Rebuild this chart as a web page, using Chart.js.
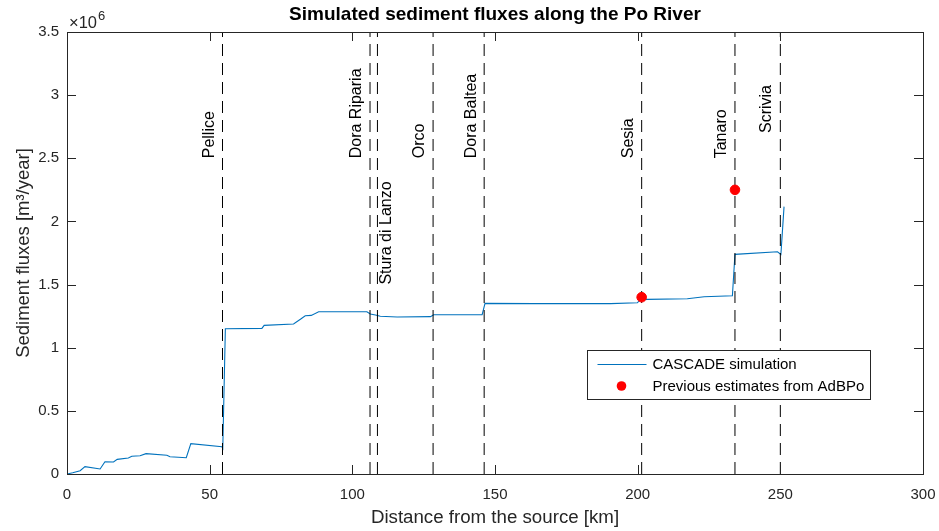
<!DOCTYPE html>
<html>
<head>
<meta charset="utf-8">
<script src="https://cdn.jsdelivr.net/npm/chart.js@4.4.1/dist/chart.umd.min.js"></script>
<style>
  html, body { margin: 0; padding: 0; background: #ffffff; }
  #wrap { width: 939px; height: 531px; }
</style>
</head>
<body>
<div id="wrap"><canvas id="c" width="939" height="531"></canvas></div>
<script>
// ---------------- DATA ----------------
const distanceKm = [
  0, 2, 4.6, 6.3, 11.6, 13.3, 16.3, 17.6, 21.5, 22.7, 25.6, 27.7, 35, 36.1, 41.8, 43.4,
  54.3, 54.6, 55.5, 68.3, 69.1, 79.4, 81.8, 83.5, 85.6, 88.2, 105.1, 106.3, 108.1, 109.8,
  115.7, 127.4, 128.5, 145.5, 146.5, 163.6, 190.5, 199.9, 200.8, 203.4, 217.4, 223.3,
  233.2, 234.1, 249, 250.2, 251.3
];
const simulatedFlux = [
  0, 0.010e6, 0.026e6, 0.058e6, 0.040e6, 0.097e6, 0.095e6, 0.116e6, 0.127e6, 0.140e6, 0.145e6, 0.161e6, 0.148e6, 0.137e6, 0.129e6, 0.240e6,
  0.216e6, 0.203e6, 1.150e6, 1.153e6, 1.177e6, 1.188e6, 1.225e6, 1.253e6, 1.256e6, 1.285e6, 1.285e6, 1.267e6, 1.259e6, 1.249e6,
  1.243e6, 1.246e6, 1.261e6, 1.261e6, 1.351e6, 1.349e6, 1.349e6, 1.356e6, 1.378e6, 1.383e6, 1.388e6, 1.404e6,
  1.412e6, 1.739e6, 1.760e6, 1.739e6, 2.117e6
];
const estimateKm = [201.4, 234.1];
const estimateFlux = [1.40e6, 2.25e6];

const tributaryNames = ['Pellice', 'Dora Riparia', 'Stura di Lanzo', 'Orco', 'Dora Baltea', 'Sesia', 'Tanaro', 'Scrivia'];
const tributaryKm = [54.5, 106.2, 108.8, 128.3, 146.2, 201.4, 234.1, 250];

const xTickValues = [0, 50, 100, 150, 200, 250, 300];
const yTickValues = [0, 0.5e6, 1e6, 1.5e6, 2e6, 2.5e6, 3e6, 3.5e6];
const yTickLabels = ['0', '0.5', '1', '1.5', '2', '2.5', '3', '3.5'];

const seriesNames = ['CASCADE simulation', 'Previous estimates from AdBPo'];
const chartTitle = 'Simulated sediment fluxes along the Po River';

// --------------- PLACEMENT / STYLE (not data) ---------------
const labelShiftKm = [-4.4, -4.7, 3.2, -4.6, -4.4, -4.7, -4.6, -4.8];
const labelStartFlux = [2.5e6, 2.5e6, 1.5e6, 2.5e6, 2.5e6, 2.5e6, 2.5e6, 2.7e6];

const FONT = "'Liberation Sans', Arial, Helvetica, sans-serif";
const AXIS_COLOR = '#262626';
const LINE_BLUE = '#0072BD';
const Y_MAX = 3.5e6;

// --------------- DATASETS ---------------
const datasets = [];
datasets.push({
  label: seriesNames[0],
  data: distanceKm.map((x, i) => ({ x: x, y: simulatedFlux[i] })),
  borderColor: LINE_BLUE,
  backgroundColor: LINE_BLUE,
  borderWidth: 1.1,
  pointRadius: 0,
  tension: 0,
  fill: false,
  order: 3
});
tributaryKm.forEach((km, i) => {
  datasets.push({
    label: tributaryNames[i],
    data: [{ x: km, y: 0 }, { x: km, y: Y_MAX }],
    borderColor: '#000000',
    borderWidth: 1,
    borderDash: [12, 7],
    pointRadius: 0,
    fill: false,
    order: 2
  });
});
datasets.push({
  label: seriesNames[1],
  data: estimateKm.map((x, i) => ({ x: x, y: estimateFlux[i] })),
  showLine: false,
  pointRadius: 4.8,
  pointHoverRadius: 4.8,
  pointBackgroundColor: '#ff0000',
  pointBorderColor: '#ff0000',
  borderColor: '#ff0000',
  backgroundColor: '#ff0000',
  order: 1
});

// --------------- PLUGIN: MATLAB-like frame, labels, legend ---------------
const matlabDecor = {
  id: 'matlabDecor',
  afterDatasetsDraw(chart) {
    const ctx = chart.ctx;
    const xs = chart.scales.x, ys = chart.scales.y;
    ctx.save();
    ctx.fillStyle = '#000000';
    ctx.font = '16px ' + FONT;
    ctx.textAlign = 'left';
    ctx.textBaseline = 'middle';
    tributaryNames.forEach((name, i) => {
      const px = xs.getPixelForValue(tributaryKm[i] + labelShiftKm[i]);
      const py = ys.getPixelForValue(labelStartFlux[i]);
      ctx.save();
      ctx.translate(px, py);
      ctx.rotate(-Math.PI / 2);
      ctx.fillText(name, 0, 0);
      ctx.restore();
    });
    ctx.restore();
  },
  afterDraw(chart) {
    const ctx = chart.ctx;
    const a = chart.chartArea;
    const xs = chart.scales.x, ys = chart.scales.y;
    ctx.save();
    // title centred over the axes
    ctx.fillStyle = '#000000';
    ctx.font = 'bold 19px ' + FONT;
    ctx.textAlign = 'center';
    ctx.textBaseline = 'middle';
    ctx.fillText(chartTitle, (a.left + a.right) / 2, 15);

    // box
    ctx.strokeStyle = AXIS_COLOR;
    ctx.lineWidth = 1;
    ctx.strokeRect(Math.round(a.left) + 0.5, Math.round(a.top) + 0.5,
                   Math.round(a.right - a.left), Math.round(a.bottom - a.top));
    // inward ticks
    const TL = 9;
    ctx.beginPath();
    xTickValues.forEach(v => {
      const px = Math.round(xs.getPixelForValue(v)) + 0.5;
      ctx.moveTo(px, a.bottom); ctx.lineTo(px, a.bottom - TL);
      ctx.moveTo(px, a.top); ctx.lineTo(px, a.top + TL);
    });
    yTickValues.forEach(v => {
      const py = Math.round(ys.getPixelForValue(v)) + 0.5;
      ctx.moveTo(a.left, py); ctx.lineTo(a.left + TL, py);
      ctx.moveTo(a.right, py); ctx.lineTo(a.right - TL, py);
    });
    ctx.stroke();

    // x10^6 exponent label
    ctx.fillStyle = AXIS_COLOR;
    ctx.textBaseline = 'alphabetic';
    ctx.textAlign = 'left';
    ctx.font = '16.5px ' + FONT;
    const ex = a.left + 2, ey = a.top - 4;
    ctx.fillText('\u00d710', ex, ey);
    const w = ctx.measureText('\u00d710').width;
    ctx.font = '13px ' + FONT;
    ctx.fillText('6', ex + w + 1, ey - 8);

    // legend
    const lw = 283, lh = 49;
    const lx = Math.round(a.right - 53 - lw) + 0.5;
    const ly = Math.round(a.bottom - 124) + 0.5;
    ctx.fillStyle = '#ffffff';
    ctx.fillRect(lx, ly, lw, lh);
    ctx.strokeStyle = AXIS_COLOR;
    ctx.lineWidth = 1;
    ctx.strokeRect(lx, ly, lw, lh);
    const simDs = chart.data.datasets[0];
    const estDs = chart.data.datasets[chart.data.datasets.length - 1];
    ctx.strokeStyle = simDs.borderColor;
    ctx.lineWidth = simDs.borderWidth;
    ctx.beginPath();
    ctx.moveTo(lx + 10, ly + 14); ctx.lineTo(lx + 59, ly + 14);
    ctx.stroke();
    ctx.fillStyle = estDs.pointBackgroundColor;
    ctx.beginPath();
    ctx.arc(lx + 34, ly + 35.5, estDs.pointRadius, 0, Math.PI * 2);
    ctx.fill();
    ctx.fillStyle = '#000000';
    ctx.font = '15px ' + FONT;
    ctx.textBaseline = 'middle';
    ctx.fillText(simDs.label, lx + 65, ly + 14.5);
    ctx.fillText(estDs.label, lx + 65, ly + 36);
    ctx.restore();
  }
};

Chart.defaults.font.family = FONT;
Chart.defaults.color = AXIS_COLOR;

new Chart(document.getElementById('c'), {
  type: 'line',
  data: { datasets: datasets },
  options: {
    responsive: false,
    animation: false,
    devicePixelRatio: 1,
    layout: { padding: { top: 32, right: 16, bottom: 0, left: 0 } },
    plugins: {
      legend: { display: false },
      tooltip: { enabled: false },
      title: { display: false }
    },
    scales: {
      x: {
        type: 'linear',
        min: 0,
        max: 300,
        afterBuildTicks: s => { s.ticks = xTickValues.map(v => ({ value: v })); },
        afterFit: s => { s.height = 57; s.paddingLeft = 0; s.paddingRight = 0; },
        grid: { display: false },
        border: { display: false },
        ticks: {
          font: { size: 15 },
          color: AXIS_COLOR,
          padding: 4,
          maxRotation: 0,
          callback: v => String(v)
        },
        title: {
          display: true,
          text: 'Distance from the source [km]',
          color: AXIS_COLOR,
          font: { size: 18.7 },
          padding: { top: 0, bottom: 2 }
        }
      },
      y: {
        type: 'linear',
        min: 0,
        max: Y_MAX,
        afterBuildTicks: s => { s.ticks = yTickValues.map(v => ({ value: v })); },
        afterFit: s => { s.width = 67; s.paddingTop = 0; s.paddingBottom = 0; },
        grid: { display: false },
        border: { display: false },
        ticks: {
          font: { size: 15 },
          color: AXIS_COLOR,
          padding: 0,
          callback: v => yTickLabels[yTickValues.indexOf(v)]
        },
        title: {
          display: true,
          text: 'Sediment fluxes [m\u00b3/year]',
          color: AXIS_COLOR,
          font: { size: 18.5 },
          padding: { top: 13, bottom: 0 }
        }
      }
    }
  },
  plugins: [matlabDecor]
});
</script>
</body>
</html>
